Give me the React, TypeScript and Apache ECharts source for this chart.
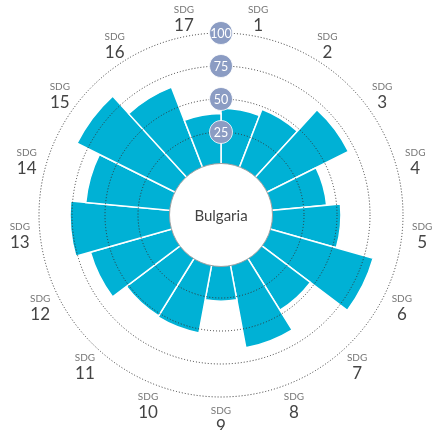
import React, { useEffect, useRef } from 'react';
import * as echarts from 'echarts';

const categories = ['1', '2', '3', '4', '5', '6', '7', '8', '9', '10', '11', '12', '13', '14', '15', '16', '17'];
const scores = [43, 48, 70, 42.5, 53, 82, 47, 64.5, 27.5, 53, 52, 65, 76.5, 65, 84, 66, 39];
const radiusTicks = [25, 50, 75, 100];
const labelPrefix = 'SDG';
const countryName = 'Bulgaria';

const CX = 221;
const CY = 215;
const R0 = 50;
const R1 = 182;
const MAX = 100;
const FONT = 'Lato, "Open Sans", sans-serif';

export default function App() {
  const ref = useRef<HTMLDivElement>(null);

  useEffect(() => {
    const chart = echarts.init(ref.current as HTMLDivElement, null, { renderer: 'svg' });
    const n = categories.length;
    const step = 360 / n;
    const labelR = 202;
    const graphics: any[] = [];

    categories.forEach((c, i) => {
      const a = ((90 - (i + 0.5) * step) * Math.PI) / 180;
      const x = CX + labelR * Math.cos(a);
      const y = CY - labelR * Math.sin(a);
      graphics.push({
        type: 'text',
        x,
        y: y - 7.5,
        z: 10,
        style: { text: labelPrefix, fill: '#777', fontSize: 10, lineHeight: 10, fontFamily: FONT, align: 'center', verticalAlign: 'middle' },
      });
      graphics.push({
        type: 'text',
        x,
        y: y + 8,
        z: 10,
        style: { text: c, fill: '#444', fontSize: 17, lineHeight: 17, fontFamily: FONT, align: 'center', verticalAlign: 'middle' },
      });
    });

    graphics.push({
      type: 'circle',
      z: 20,
      shape: { cx: CX, cy: CY, r: 51.5 },
      style: { fill: '#fff', stroke: '#a0a0a0', lineWidth: 1 },
    });
    graphics.push({
      type: 'text',
      x: CX,
      y: CY,
      z: 21,
      style: { text: countryName, fill: '#444', fontSize: 15, fontFamily: FONT, align: 'center', verticalAlign: 'middle' },
    });

    radiusTicks.forEach((v) => {
      const r = R0 + (v / MAX) * (R1 - R0);
      graphics.push({
        type: 'circle',
        z: 30,
        shape: { cx: CX, cy: CY - r, r: 11.5 },
        style: { fill: '#8b9cc3', stroke: '#ffffff', lineWidth: 0.8 },
      });
      graphics.push({
        type: 'text',
        x: CX,
        y: CY - r + 0.5,
        z: 31,
        style: { text: String(v), fill: '#fff', fontSize: 12.5, fontFamily: FONT, align: 'center', verticalAlign: 'middle' },
      });
    });

    chart.setOption({
      animation: false,
      polar: { center: [CX, CY], radius: [R0, R1] },
      angleAxis: {
        type: 'category',
        data: categories,
        startAngle: 90,
        clockwise: true,
        axisLine: { show: false },
        axisTick: { show: false },
        axisLabel: { show: false },
        splitLine: { show: false },
      },
      radiusAxis: {
        type: 'value',
        min: 0,
        max: MAX,
        interval: 25,
        z: 5,
        axisLine: { show: false },
        axisTick: { show: false },
        axisLabel: { show: false },
        splitLine: { show: true, lineStyle: { color: '#333', type: [1, 2], width: 1 } },
      },
      series: [
        {
          type: 'bar',
          coordinateSystem: 'polar',
          data: scores,
          barCategoryGap: '0%',
          itemStyle: { color: '#00b1d5', borderColor: '#ffffff', borderWidth: 1.5 },
          z: 2,
        },
      ],
      graphic: graphics,
    });

    return () => chart.dispose();
  }, []);

  return <div ref={ref} style={{ position: 'fixed', left: 0, top: 0, width: 433, height: 430 }} />;
}
